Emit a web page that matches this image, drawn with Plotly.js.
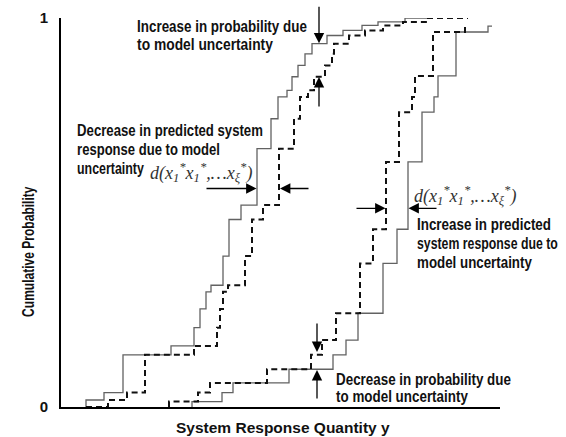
<!DOCTYPE html>
<html>
<head>
<meta charset="utf-8">
<script src="https://cdn.plot.ly/plotly-3.0.1.min.js"></script>
<style>html,body{margin:0;padding:0;background:#fff;}</style>
</head>
<body>
<div id="chart" style="width:566px;height:437px;"></div>
<script>
// Step-CDF data (x in arbitrary response units, y = cumulative probability)
const solidLeftX  = [25, 25, 43, 62, 110, 133, 139, 145, 150, 162, 168, 180, 196, 210, 217, 226, 231, 237, 244, 251, 266, 282, 301, 317, 344, 367];
const solidLeftY  = [0, 0.018, 0.037, 0.134, 0.157, 0.204, 0.252, 0.296, 0.313, 0.388, 0.482, 0.519, 0.664, 0.741, 0.797, 0.814, 0.849, 0.878, 0.908, 0.934, 0.955, 0.968, 0.981, 0.990, 1.0, 1.0];
const dashedLeftX = [25, 47, 66, 84, 133, 156, 159, 162, 167, 184, 191, 202, 218, 233, 239, 247, 253, 264, 271, 273, 288, 304, 322, 342, 367, 407];
const dashedLeftY = [0, 0.018, 0.037, 0.134, 0.157, 0.204, 0.252, 0.296, 0.313, 0.388, 0.482, 0.519, 0.664, 0.741, 0.797, 0.814, 0.849, 0.878, 0.908, 0.934, 0.955, 0.968, 0.981, 0.990, 1.0, 1.0];
const solidRightX  = [131, 131, 161, 172, 228, 272, 285, 297, 322, 336, 347, 361, 373, 377, 395, 427, 431];
const solidRightY  = [0, 0.014, 0.037, 0.062, 0.097, 0.134, 0.172, 0.241, 0.369, 0.457, 0.630, 0.758, 0.797, 0.851, 0.964, 0.979, 0.979];
const dashedRightX = [108, 108, 137, 149, 206, 250, 261, 275, 299, 312, 325, 338, 351, 354, 372, 404, 407];
const dashedRightY = [0, 0.014, 0.037, 0.062, 0.097, 0.134, 0.172, 0.241, 0.369, 0.457, 0.630, 0.758, 0.797, 0.851, 0.964, 0.979, 0.979];

const yTickVals = [0, 1];
const yTickText = ['0', '1'];
const xTitle = 'System Response Quantity y';
const yTitle = 'Cumulative Probability';
const mathLabel = 'd(x<sub>1</sub><sup>*</sup>x<sub>1</sub><sup>*</sup>,…x<sub>ξ</sub><sup>*</sup>)';
const noteLines = [
  'Increase in probability due',
  'to model uncertainty',
  'Decrease in predicted system',
  'response due to model',
  'uncertainty',
  'Increase in predicted',
  'system response due to',
  'model uncertainty',
  'Decrease in probability due',
  'to model uncertainty'
];
// placement of each note line: [left px, centre px, lettering width px]
const notePlace = [
  [135, 26.7, 170], [135, 44.5, 136],
  [75, 130, 186], [75, 149, 143], [75, 168, 67],
  [415, 224.5, 134], [415, 243.7, 141], [415, 262.2, 115],
  [334.3, 379.5, 175], [334.3, 396.5, 132]
];

// layout geometry (pixels)
const W = 566, H = 437, L = 61, R = 66, T = 18, B = 30;
const PW = W - L - R, PH = H - T - B;
function px(x) { return (x - L) / PW; }
function py(y) { return (H - B - y) / PH; }

const sansBold = '"Liberation Sans", Arial, sans-serif';
const fitMode = [];   // per-annotation: null | {pivot:'left'|'center', w: targetWidth}

const solidStyle = {color: '#626262', width: 1.3, shape: 'hv'};
const dashStyle = {color: '#111', width: 2, shape: 'hv', dash: '6px,4px'};

const traces = [
  {x: solidLeftX, y: solidLeftY, mode: 'lines', line: solidStyle, hoverinfo: 'skip'},
  {x: dashedLeftX, y: dashedLeftY, mode: 'lines', line: dashStyle, hoverinfo: 'skip'},
  {x: solidRightX, y: solidRightY, mode: 'lines', line: solidStyle, hoverinfo: 'skip'},
  {x: dashedRightX, y: dashedRightY, mode: 'lines', line: dashStyle, hoverinfo: 'skip'}
];

const ann = [];
noteLines.forEach(function (txt, i) {
  const p = notePlace[i];
  ann.push({text: txt, xref: 'paper', yref: 'paper', x: px(p[0]), y: py(p[1]),
    xanchor: 'left', yanchor: 'middle', showarrow: false,
    font: {family: sansBold, size: 16, color: '#111', weight: 'bold'}});
  fitMode.push({pivot: 'left', w: p[2]});
});
[[148, 172], [411.7, 195]].forEach(function (p) {
  ann.push({text: mathLabel, xref: 'paper', yref: 'paper', x: px(p[0]), y: py(p[1]),
    xanchor: 'left', yanchor: 'middle', showarrow: false,
    font: {family: '"Liberation Serif", "Times New Roman", serif', size: 18, color: '#333', style: 'italic'}});
  fitMode.push(null);
});
// arrows: [headX, headY, ax, ay]
[[319, 43.3, 0, -38], [319, 77, 0, 31], [256.5, 188.5, -51.5, 0], [280, 188.5, 30, 0],
 [385.5, 208.3, -30.5, 0], [408.5, 208.3, 29.5, 0], [317, 352, 0, -30], [317, 370, 0, 30]].forEach(function (a) {
  ann.push({text: '', xref: 'paper', yref: 'paper', x: px(a[0]), y: py(a[1]), ax: a[2], ay: a[3],
    showarrow: true, arrowhead: 2, arrowsize: 1.6, arrowwidth: 1.3, arrowcolor: '#000'});
  fitMode.push(null);
});
ann.push({text: yTitle, xref: 'paper', yref: 'paper', x: px(27.5), y: py(251.7), textangle: -90,
  xanchor: 'center', yanchor: 'middle', showarrow: false,
  font: {family: sansBold, size: 16.5, color: '#111', weight: 'bold'}});
fitMode.push({pivot: 'center', w: 131});
ann.push({text: xTitle, xref: 'paper', yref: 'paper', x: px(283), y: py(427.5),
  xanchor: 'center', yanchor: 'middle', showarrow: false,
  font: {family: sansBold, size: 15.5, color: '#111', weight: 'bold'}});
fitMode.push(null);

const layout = {
  width: W, height: H,
  margin: {l: L, r: R, t: T, b: B},
  paper_bgcolor: '#fff', plot_bgcolor: '#fff',
  showlegend: false,
  xaxis: {range: [0, PW], showline: true, linecolor: '#000', linewidth: 1.8,
    showgrid: false, zeroline: false, showticklabels: false, ticks: ''},
  yaxis: {range: [0, 1], showline: true, linecolor: '#000', linewidth: 1.8,
    showgrid: false, zeroline: false, tickvals: yTickVals, ticktext: yTickText,
    ticks: 'inside', ticklen: 7, tickwidth: 1.5, tickcolor: '#000',
    ticklabelstandoff: 8,
    tickfont: {family: sansBold, size: 15, color: '#111', weight: 'bold'}},
  annotations: ann
};

Plotly.newPlot('chart', traces, layout, {displayModeBar: false, staticPlot: true}).then(function () {
  document.querySelectorAll('#chart g.annotation').forEach(function (g) {
    const idx = +g.getAttribute('data-index');
    const mode = fitMode[idx];
    if (!mode) return;
    const t = g.querySelector('text.annotation-text');
    if (!t) return;
    const bb = t.getBBox();
    if (!bb.width) return;
    const k = mode.w / bb.width;
    const pivot = mode.pivot === 'left' ? bb.x : bb.x + bb.width / 2;
    const prev = t.getAttribute('transform') || '';
    t.setAttribute('transform', prev + ' translate(' + pivot + ',0) scale(' + k + ',1) translate(' + (-pivot) + ',0)');
  });
});
</script>
</body>
</html>
